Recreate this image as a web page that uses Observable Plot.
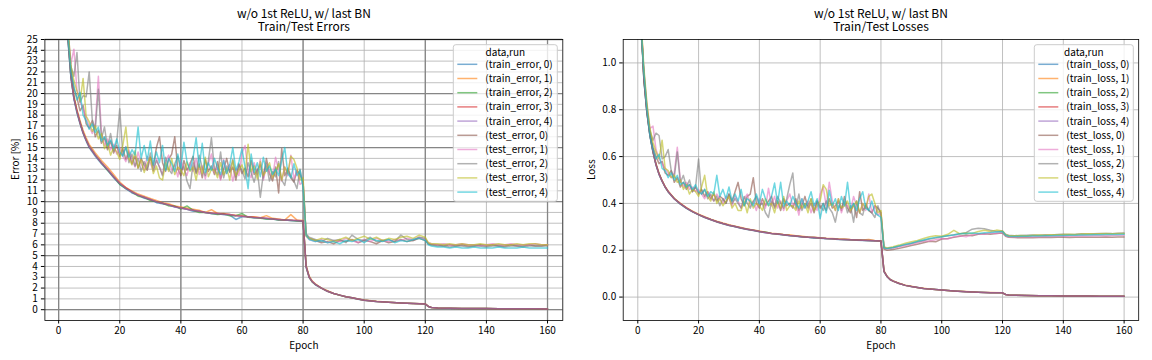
<!DOCTYPE html>
<html>
<head>
<meta charset="utf-8">
<script src="https://cdn.jsdelivr.net/npm/d3@7"></script>
<script src="https://cdn.jsdelivr.net/npm/@observablehq/plot@0.6"></script>
<style>
  html, body { margin: 0; padding: 0; background: #fff; }
  #wrap { position: relative; width: 1152px; height: 360px; overflow: hidden; background: #fff; }
  #wrap > svg, #wrap > figure { position: absolute; top: 0; margin: 0; }
</style>
</head>
<body>
<div id="wrap"></div>
<script>
// ---------------- DATA ----------------
const supTitle = "w/o 1st ReLU, w/ last BN";
const errTitle = "Train/Test Errors";
const lossTitle = "Train/Test Losses";
const xLabel = "Epoch";
const errYLabel = "Error [%]";
const lossYLabel = "Loss";
const legendTitle = "data,run";
const runs = [0, 1, 2, 3, 4];
const errSeriesNames = ["train_error", "test_error"];
const lossSeriesNames = ["train_loss", "test_loss"];
const xTicks = [0, 20, 40, 60, 80, 100, 120, 140, 160];
const xMajorTicks = [0, 40, 80, 120, 160];
const errYTicks = [0,1,2,3,4,5,6,7,8,9,10,11,12,13,14,15,16,17,18,19,20,21,22,23,24,25];
const errYMajorTicks = [0, 5, 10, 15, 20, 25];
const lossYTicks = [0, 0.2, 0.4, 0.6, 0.8, 1.0];

const trainEpochs = [1,2,3,4,5,6,7,8,9,10,12,14,16,18,20,22,24,26,28,30,32,34,36,38,40,42,44,46,48,50,52,54,56,58,60,62,64,66,68,70,72,74,76,78,80,81,82,83,84,86,88,90,92,94,96,98,100,104,108,112,116,120,121,122,124,128,132,136,140,144,148,152,156,160];
const testEpochs = [1,2,3,4,5,6,7,8,9,10,11,12,13,14,15,16,17,18,19,20,21,22,23,24,25,26,27,28,29,30,31,32,33,34,35,36,37,38,39,40,41,42,43,44,45,46,47,48,49,50,51,52,53,54,55,56,57,58,59,60,61,62,63,64,65,66,67,68,69,70,71,72,73,74,75,76,77,78,79,80,81,82,84,86,88,90,92,94,96,98,100,102,104,106,108,110,112,114,116,118,120,121,122,124,126,128,130,132,134,136,138,140,142,144,146,148,150,152,154,156,158,160];

const trainError0 = [41.5,30.8,25.1,21.5,19.5,18.2,17.2,16.3,15.6,15.0, 14.2,13.5,12.9,12.2,11.6,11.2,10.8,10.6,10.3,10.2, 9.9,9.8,9.7,9.5,9.4,9.3,9.1,9.1,9.0,8.9, 8.85,8.8,8.75,8.35,8.6,8.6,8.5,8.5,8.4,8.4, 8.3,8.3,8.25,8.2,8.15, 3.9,3.0,2.6,2.3, 2.0,1.7,1.5,1.35,1.2,1.1,0.97,0.88, 0.75,0.68,0.62,0.57,0.52, 0.3,0.2, 0.16,0.13,0.12,0.1,0.1,0.09,0.08,0.08,0.08,0.07];
const trainError1 = [42.5,31.3,25.6,21.9,19.8,18.5,17.5,16.6,15.9,15.3, 14.5,13.8,13.2,12.5,11.8,11.3,11.0,10.7,10.5,10.3, 10.1,9.9,9.8,9.6,9.5,9.4,9.3,9.2,9.0,9.25, 8.9,8.9,8.8,8.75,8.7,8.6,8.6,8.5,8.7,8.45, 8.4,8.3,8.8,8.3,8.25, 4.1,3.1,2.65,2.4, 2.0,1.75,1.5,1.35,1.2,1.1,0.99,0.9, 0.77,0.69,0.62,0.58,0.54, 0.31,0.2, 0.16,0.13,0.12,0.11,0.1,0.09,0.09,0.08,0.08,0.07];
const trainError2 = [42.0,31.0,25.3,21.6,19.6,18.3,17.3,16.4,15.7,15.1, 14.3,13.6,12.9,12.3,11.6,11.2,10.9,10.5,10.4,10.1, 10.0,9.85,9.6,9.6,9.3,9.6,9.2,9.0,9.0,8.9, 8.8,8.85,8.7,8.7,8.9,8.55,8.5,8.45,8.4,8.4, 8.3,8.3,8.25,8.2,8.2, 4.0,3.0,2.55,2.35, 2.0,1.7,1.5,1.34,1.2,1.1,0.98,0.87, 0.76,0.68,0.63,0.57,0.53, 0.3,0.2, 0.15,0.13,0.12,0.11,0.1,0.09,0.09,0.08,0.07,0.07];
const trainError3 = [42.2,31.1,25.4,21.7,19.6,18.4,17.3,16.4,15.7,15.1, 14.3,13.6,13.0,12.3,11.7,11.3,10.9,10.6,10.4,10.2, 10.0,9.85,9.7,9.55,9.4,9.3,9.2,9.1,9.0,8.95, 8.9,8.85,8.8,8.7,8.65,8.6,8.55,8.5,8.45,8.4, 8.35,8.3,8.3,8.25,8.2, 4.0,3.0,2.6,2.35, 2.0,1.7,1.5,1.35,1.2,1.1,0.98,0.88, 0.76,0.68,0.62,0.57,0.53, 0.3,0.2, 0.16,0.13,0.12,0.11,0.1,0.09,0.09,0.08,0.08,0.07];
const trainError4 = [41.8,30.9,25.2,21.6,19.5,18.3,17.3,16.4,15.7,15.1, 14.3,13.6,13.0,12.3,11.7,11.2,10.9,10.6,10.4,10.2, 10.0,9.85,9.7,9.5,9.4,9.3,9.2,9.1,9.0,8.9, 8.9,8.8,8.8,8.7,8.65,8.6,8.5,8.5,8.45,8.4, 8.35,8.3,8.25,8.25,8.2, 4.0,3.0,2.6,2.35, 2.0,1.7,1.5,1.35,1.2,1.1,0.98,0.88, 0.76,0.68,0.62,0.57,0.53, 0.3,0.2, 0.16,0.13,0.12,0.11,0.1,0.09,0.09,0.08,0.08,0.07];

const testError0 = [40,30,25.6,22.3,20.5,19.6,18.4,18.9,17.2,16.8, 17.5,16.0,16.6,15.4,15.9,14.8,15.6,14.5,15.2,14.2, 14.9,13.9,14.6,13.5,14.2,13.1,14.0,13.4,12.9,14.1, 13.3,15.0,16.0,13.6,12.8,13.9,14.4,16.0,13.0,12.4, 13.8,12.9,13.5,14.2,12.6,13.4,12.2,13.9,12.8,13.3, 12.5,13.7,12.1,13.0,14.0,12.7,13.2,12.0,13.5,12.6, 13.1,12.3,13.8,12.5,12.9,13.4,12.2,14.0,12.6,11.9, 13.2,10.8,14.9,12.4,13.0,12.2,11.8,12.9,12.5,11.8,
  6.9,6.6,6.4,6.2,6.3,6.1,6.4,6.3,6.5,6.2,6.4,6.3,6.1,6.4,6.2,6.3,6.5,6.3,6.4,6.6,6.4,
  6.1,6.0,6.0,5.9,6.0,5.9,6.0,5.9,5.9,6.0,5.9,6.0,5.9,5.9,6.0,5.9,5.9,6.0,5.9,5.9,6.0];
const testError1 = [41,31,26.0,22.8,24.1,20.3,19.2,18.6,17.8,17.0, 16.3,17.2,21.6,16.4,15.2,15.8,14.8,15.3,14.4,15.0, 14.2,13.7,14.8,13.9,13.2,14.6,13.5,12.9,14.2,13.6, 12.8,14.0,13.2,12.5,13.7,14.3,12.9,13.4,12.3,13.8, 13.0,12.4,13.6,12.8,14.0,12.5,13.3,12.1,13.5,14.4, 12.7,13.2,12.0,13.9,12.6,13.4,11.9,13.1,12.4,14.5, 15.2,12.8,12.2,13.6,12.5,13.9,12.0,13.3,12.7,12.2, 14.1,12.9,11.9,13.2,12.4,14.3,12.1,12.9,11.6,11.8,
  6.8,6.5,6.3,6.5,6.2,6.4,6.3,6.6,6.4,6.2,6.5,6.3,6.6,6.4,6.3,6.5,6.4,6.6,6.5,6.7,6.5,
  6.2,6.1,6.0,6.1,6.0,6.0,6.1,6.0,6.0,5.9,6.0,6.1,6.0,6.0,6.1,6.0,6.0,6.0,6.1,6.0,6.0];
const testError2 = [40.5,30.5,25.8,22.5,21.6,23.8,19.2,19.8,19.7,22.0, 17.6,16.7,20.4,15.8,16.9,15.0,16.3,14.7,15.5,18.6, 14.3,15.1,13.6,14.4,13.3,14.0,12.8,13.7,13.1,14.5, 12.9,13.8,13.2,12.4,14.1,13.0,12.6,13.5,14.2,12.8, 13.3,11.9,11.2,13.6,12.7,14.3,13.1,12.4,13.8,15.9, 13.0,12.5,14.6,12.2,13.3,12.8,13.9,12.3,13.4,12.9, 12.1,13.6,12.7,11.8,13.0,10.4,12.6,13.5,11.9,12.8, 12.3,13.7,12.0,11.5,13.1,12.4,11.9,11.2,13.0,11.5,
  7.0,6.7,6.5,6.3,6.6,6.4,6.5,6.2,6.9,6.5,6.4,6.7,6.3,6.4,6.5,6.3,6.9,6.5,6.4,6.7,6.6,
  6.1,6.0,5.9,5.9,5.8,5.9,5.9,5.8,5.9,5.9,5.8,5.9,5.9,5.8,5.9,5.9,5.8,5.9,5.9,5.9,5.9];
const testError3 = [42,31.5,26.3,22.6,21.2,20.2,19.3,21.4,17.9,17.4, 16.5,17.0,15.8,16.3,14.9,15.4,14.3,15.0,14.6,13.9, 15.2,16.9,14.0,13.4,14.7,13.1,13.9,12.7,13.5,14.1, 12.6,13.3,12.2,12.0,13.6,12.8,14.0,12.5,13.2,12.9, 12.4,13.7,12.8,13.2,12.0,13.5,12.6,14.1,12.3,13.0, 12.9,12.2,13.6,12.5,13.1,12.0,13.8,12.4,12.9,13.4, 12.5,15.3,12.8,13.3,12.1,13.7,12.4,12.9,13.6,12.2, 12.8,13.5,12.0,13.2,12.6,14.2,13.9,13.1,12.0,12.2,
  6.8,6.6,6.4,6.6,6.5,6.3,6.5,6.7,6.4,6.6,6.8,6.5,6.7,6.4,6.6,6.5,6.7,6.8,6.6,6.9,6.7,
  6.2,6.1,6.1,6.0,6.1,6.0,6.1,6.0,6.0,6.1,6.0,6.0,6.1,6.0,6.0,6.1,6.0,6.1,6.1,6.0,6.0];
const testError4 = [41,30.8,25.5,22.0,20.6,19.4,20.1,18.0,17.5,16.7, 17.2,16.4,16.9,15.6,16.0,15.2,15.7,14.9,15.8,14.6, 14.2,15.0,14.1,14.8,14.3,16.9,14.0,15.2,13.8,15.6, 13.4,14.6,13.6,15.2,12.9,14.0,13.5,12.8,14.4,13.1, 15.5,13.7,12.9,14.1,15.9,13.2,15.4,12.7,13.6,12.9, 14.0,13.1,12.5,13.8,12.6,13.4,15.0,12.9,13.7,14.9, 13.2,11.2,14.4,12.7,13.6,12.3,14.1,12.8,13.3,12.5, 13.0,12.4,13.8,15.0,12.6,12.2,13.5,12.4,12.9,11.3,
  6.9,6.5,6.3,6.4,6.2,6.3,6.1,6.4,6.3,6.5,6.2,6.6,6.4,6.3,6.5,6.2,6.4,6.3,6.5,6.6,6.4,
  6.0,5.9,5.8,5.8,5.7,5.8,5.7,5.7,5.8,5.7,5.7,5.7,5.8,5.7,5.7,5.7,5.8,5.7,5.7,5.7,5.7];

const trainLoss0 = [1.19,0.925,0.785,0.688,0.618,0.563,0.523,0.494,0.469,0.449, 0.419,0.397,0.379,0.364,0.351,0.340,0.330,0.321,0.313,0.306, 0.300,0.294,0.289,0.284,0.279,0.275,0.271,0.268,0.265,0.262, 0.260,0.257,0.255,0.251,0.251,0.249,0.248,0.246,0.245,0.244, 0.243,0.242,0.241,0.240,0.239, 0.109,0.087,0.075,0.068, 0.058,0.050,0.045,0.041,0.037,0.034,0.032,0.030, 0.026,0.023,0.021,0.019,0.018, 0.011,0.009, 0.008,0.007,0.006,0.006,0.005,0.005,0.005,0.004,0.004,0.004];
const trainLoss1 = [1.22,0.94,0.80,0.696,0.625,0.569,0.528,0.498,0.472,0.452, 0.422,0.400,0.382,0.367,0.354,0.343,0.333,0.324,0.316,0.309, 0.303,0.297,0.291,0.287,0.282,0.277,0.273,0.270,0.267,0.266, 0.262,0.260,0.257,0.255,0.253,0.251,0.250,0.248,0.248,0.246, 0.245,0.244,0.246,0.242,0.241, 0.112,0.089,0.076,0.069, 0.059,0.051,0.046,0.041,0.038,0.035,0.032,0.030, 0.026,0.024,0.021,0.020,0.018, 0.011,0.009, 0.008,0.007,0.006,0.006,0.005,0.005,0.005,0.004,0.004,0.004];
const trainLoss2 = [1.20,0.932,0.790,0.690,0.621,0.566,0.526,0.496,0.470,0.450, 0.421,0.398,0.380,0.365,0.352,0.341,0.331,0.322,0.314,0.307, 0.301,0.295,0.290,0.285,0.280,0.278,0.272,0.269,0.266,0.263, 0.261,0.258,0.256,0.254,0.252,0.250,0.249,0.247,0.246,0.245, 0.244,0.243,0.242,0.241,0.240, 0.110,0.088,0.075,0.068, 0.058,0.050,0.045,0.041,0.037,0.034,0.032,0.030, 0.026,0.023,0.021,0.019,0.018, 0.011,0.009, 0.008,0.007,0.006,0.006,0.005,0.005,0.005,0.004,0.004,0.004];
const trainLoss3 = [1.21,0.935,0.792,0.692,0.622,0.566,0.526,0.496,0.471,0.451, 0.420,0.399,0.381,0.365,0.352,0.341,0.331,0.322,0.314,0.307, 0.301,0.295,0.290,0.285,0.280,0.276,0.272,0.269,0.266,0.263, 0.261,0.258,0.256,0.254,0.252,0.250,0.249,0.247,0.246,0.245, 0.244,0.243,0.242,0.241,0.240, 0.110,0.088,0.075,0.068, 0.058,0.050,0.045,0.041,0.037,0.034,0.032,0.030, 0.026,0.023,0.021,0.019,0.018, 0.011,0.009, 0.008,0.007,0.006,0.006,0.005,0.005,0.005,0.004,0.004,0.004];
const trainLoss4 = [1.20,0.930,0.789,0.690,0.620,0.565,0.525,0.495,0.470,0.450, 0.420,0.398,0.380,0.365,0.352,0.341,0.331,0.322,0.314,0.307, 0.301,0.295,0.290,0.285,0.280,0.276,0.272,0.269,0.266,0.263, 0.261,0.258,0.256,0.254,0.252,0.250,0.249,0.247,0.246,0.245, 0.244,0.243,0.242,0.241,0.240, 0.110,0.088,0.075,0.068, 0.058,0.050,0.045,0.041,0.037,0.034,0.032,0.030, 0.026,0.023,0.021,0.019,0.018, 0.011,0.009, 0.008,0.007,0.006,0.006,0.005,0.005,0.005,0.004,0.004,0.004];

const testLoss0 = [1.15,0.95,0.80,0.70,0.64,0.60,0.57,0.58,0.53,0.52, 0.54,0.49,0.51,0.47,0.49,0.46,0.48,0.45,0.47,0.44, 0.46,0.43,0.45,0.42,0.44,0.41,0.43,0.42,0.40,0.44, 0.41,0.45,0.49,0.42,0.39,0.43,0.44,0.51,0.40,0.38, 0.42,0.39,0.41,0.43,0.38,0.41,0.37,0.42,0.39,0.40, 0.38,0.42,0.37,0.39,0.43,0.38,0.40,0.36,0.41,0.38, 0.40,0.37,0.42,0.38,0.39,0.41,0.37,0.43,0.38,0.36, 0.40,0.34,0.45,0.37,0.39,0.37,0.36,0.39,0.38,0.36,
  0.205,0.200,0.203,0.208,0.214,0.220,0.226,0.232,0.238,0.236,0.248,0.250,0.255,0.260,0.265,0.262,0.268,0.270,0.268,0.272,0.274,
  0.260,0.255,0.254,0.253,0.254,0.253,0.254,0.255,0.254,0.255,0.255,0.254,0.256,0.255,0.256,0.256,0.255,0.257,0.256,0.257,0.257];
const testLoss1 = [1.18,0.97,0.82,0.72,0.73,0.63,0.59,0.57,0.55,0.53, 0.51,0.53,0.64,0.50,0.47,0.49,0.46,0.47,0.45,0.46, 0.44,0.42,0.45,0.43,0.41,0.44,0.42,0.40,0.43,0.42, 0.39,0.43,0.41,0.38,0.42,0.44,0.39,0.41,0.37,0.42, 0.40,0.38,0.465,0.39,0.43,0.38,0.41,0.37,0.41,0.44, 0.39,0.40,0.35,0.42,0.38,0.41,0.36,0.40,0.37,0.44, 0.47,0.39,0.49,0.41,0.37,0.42,0.36,0.40,0.39,0.37, 0.43,0.39,0.36,0.40,0.37,0.44,0.36,0.39,0.35,0.36,
  0.210,0.206,0.210,0.214,0.220,0.226,0.232,0.238,0.240,0.245,0.250,0.248,0.258,0.262,0.258,0.266,0.270,0.268,0.274,0.272,0.276,
  0.262,0.258,0.257,0.258,0.258,0.259,0.258,0.260,0.259,0.260,0.261,0.260,0.261,0.262,0.261,0.262,0.263,0.262,0.263,0.264,0.264];
const testLoss2 = [1.16,0.96,0.81,0.71,0.67,0.70,0.69,0.59,0.60,0.63, 0.54,0.51,0.62,0.49,0.52,0.47,0.50,0.45,0.47,0.59, 0.44,0.46,0.42,0.44,0.41,0.43,0.39,0.42,0.40,0.44, 0.40,0.42,0.40,0.38,0.43,0.40,0.38,0.41,0.43,0.39, 0.40,0.36,0.34,0.41,0.39,0.43,0.40,0.38,0.42,0.48, 0.53,0.38,0.44,0.37,0.40,0.39,0.42,0.37,0.41,0.39, 0.37,0.41,0.38,0.36,0.32,0.39,0.38,0.41,0.36,0.39, 0.32,0.41,0.36,0.35,0.40,0.37,0.36,0.34,0.39,0.35,
  0.212,0.208,0.212,0.218,0.224,0.230,0.236,0.242,0.248,0.252,0.258,0.262,0.266,0.270,0.275,0.290,0.294,0.292,0.285,0.280,0.282,
  0.268,0.264,0.262,0.263,0.264,0.265,0.264,0.266,0.265,0.267,0.268,0.267,0.268,0.270,0.269,0.270,0.271,0.272,0.271,0.273,0.274];
const testLoss3 = [1.20,0.98,0.83,0.72,0.66,0.62,0.59,0.67,0.55,0.54, 0.51,0.52,0.49,0.50,0.46,0.48,0.44,0.46,0.45,0.43, 0.47,0.52,0.43,0.41,0.45,0.40,0.42,0.39,0.41,0.43, 0.38,0.40,0.37,0.37,0.41,0.36,0.42,0.38,0.40,0.39, 0.37,0.42,0.39,0.40,0.36,0.41,0.38,0.43,0.37,0.39, 0.39,0.37,0.41,0.38,0.40,0.36,0.42,0.37,0.39,0.41, 0.48,0.46,0.39,0.40,0.37,0.42,0.38,0.39,0.41,0.37, 0.39,0.41,0.36,0.40,0.38,0.43,0.44,0.40,0.36,0.37,
  0.215,0.210,0.215,0.222,0.230,0.236,0.242,0.250,0.258,0.262,0.260,0.268,0.285,0.270,0.274,0.272,0.280,0.285,0.280,0.286,0.282,
  0.266,0.262,0.262,0.263,0.262,0.264,0.265,0.264,0.266,0.266,0.267,0.268,0.267,0.269,0.270,0.269,0.270,0.271,0.270,0.271,0.272];
const testLoss4 = [1.17,0.96,0.80,0.69,0.63,0.59,0.61,0.55,0.54,0.51, 0.53,0.50,0.52,0.48,0.49,0.47,0.48,0.46,0.48,0.45, 0.44,0.46,0.43,0.45,0.44,0.52,0.43,0.46,0.42,0.47, 0.41,0.44,0.41,0.46,0.39,0.42,0.41,0.39,0.44,0.40, 0.46,0.42,0.39,0.43,0.487,0.40,0.49,0.39,0.41,0.39, 0.43,0.40,0.38,0.42,0.38,0.41,0.45,0.39,0.42,0.335, 0.40,0.36,0.456,0.39,0.42,0.37,0.43,0.39,0.49,0.38, 0.40,0.37,0.42,0.45,0.38,0.37,0.41,0.36,0.35,0.34,
  0.210,0.207,0.212,0.218,0.225,0.230,0.238,0.244,0.250,0.255,0.258,0.262,0.265,0.270,0.272,0.274,0.272,0.275,0.276,0.278,0.280,
  0.264,0.260,0.259,0.260,0.260,0.261,0.261,0.262,0.262,0.263,0.263,0.264,0.264,0.265,0.265,0.266,0.266,0.267,0.267,0.267,0.268];

const trainErrors = [trainError0, trainError1, trainError2, trainError3, trainError4];
const testErrors = [testError0, testError1, testError2, testError3, testError4];
const trainLosses = [trainLoss0, trainLoss1, trainLoss2, trainLoss3, trainLoss4];
const testLosses = [testLoss0, testLoss1, testLoss2, testLoss3, testLoss4];

// matplotlib tab10
const tab10 = ["#1f77b4","#ff7f0e","#2ca02c","#d62728","#9467bd","#8c564b","#e377c2","#7f7f7f","#bcbd22","#17becf"];

// ---------------- BUILD ----------------
const problems = [];
function check(name, arr, epochs) { if (arr.length !== epochs.length) problems.push(name + ": " + arr.length + " vs " + epochs.length); }
trainErrors.forEach((a, i) => check("trainError" + i, a, trainEpochs));
trainLosses.forEach((a, i) => check("trainLoss" + i, a, trainEpochs));
testErrors.forEach((a, i) => check("testError" + i, a, testEpochs));
testLosses.forEach((a, i) => check("testLoss" + i, a, testEpochs));
if (problems.length) throw new Error("Length mismatch: " + problems.join("; "));

function buildRows(names, trainSets, testSets) {
  const rows = [];
  const keys = [];
  [[names[0], trainSets, trainEpochs], [names[1], testSets, testEpochs]].forEach(([name, sets, epochs]) => {
    runs.forEach(r => {
      const key = `(${name}, ${r})`;
      keys.push(key);
      sets[r].forEach((v, i) => rows.push({key, epoch: epochs[i], value: v}));
    });
  });
  return {rows, keys};
}

const FONT = '"Noto Sans CJK JP", "Noto Sans", sans-serif';
const err = buildRows(errSeriesNames, trainErrors, testErrors);
const loss = buildRows(lossSeriesNames, trainLosses, testLosses);

function makeChart(cfg) {
  const marks = [
    Plot.gridX(xTicks, {stroke: "#b0b0b0", strokeOpacity: 1, strokeWidth: 0.8}),
    Plot.gridY(cfg.yTicks, {stroke: "#b0b0b0", strokeOpacity: 1, strokeWidth: 0.8})
  ];
  if (cfg.major) {
    marks.push(Plot.gridX(xMajorTicks, {stroke: "#868686", strokeOpacity: 1, strokeWidth: 1.3}));
    marks.push(Plot.gridY(errYMajorTicks, {stroke: "#868686", strokeOpacity: 1, strokeWidth: 1.3}));
  }
  marks.push(
    Plot.line(cfg.rows, {x: "epoch", y: "value", z: "key", stroke: "key", strokeWidth: 1.5, strokeOpacity: 0.62, clip: true}),
    Plot.frame({stroke: "#000", strokeWidth: 0.8}),
    Plot.axisX(xTicks, {tickSize: 3.5, tickPadding: 3, label: null, tickFormat: d => String(d)}),
    Plot.axisY(cfg.yTicks, {tickSize: 3.5, tickPadding: 3.5, label: null, tickFormat: cfg.yFormat}),
    Plot.text([supTitle], {text: d => d, frameAnchor: "top", lineAnchor: "middle", dy: -25.3, fontSize: 12}),
    Plot.text([cfg.title], {text: d => d, frameAnchor: "top", lineAnchor: "middle", dy: -12.5, fontSize: 12}),
    Plot.text([xLabel], {text: d => d, frameAnchor: "bottom", lineAnchor: "middle", dy: 25}),
    Plot.text([cfg.ylabel], {text: d => d, frameAnchor: "left", lineAnchor: "middle", dx: cfg.ylabelDx, rotate: -90})
  );
  return Plot.plot({
    width: 576, height: 360,
    marginLeft: cfg.marginLeft, marginRight: cfg.marginRight, marginTop: 39, marginBottom: 40,
    x: {domain: cfg.xDomain},
    y: {domain: cfg.yDomain},
    color: {domain: cfg.keys, range: tab10},
    style: {fontFamily: FONT, fontSize: "10px", color: "#000", background: "transparent", overflow: "visible"},
    marks
  });
}

const wrap = document.getElementById("wrap");
const left = makeChart({rows: err.rows, keys: err.keys, yTicks: errYTicks, yFormat: d => String(d), yDomain: [-1, 25], xDomain: [-4.5, 165],
  marginLeft: 44.4, marginRight: 13.7, major: true, title: errTitle, ylabel: errYLabel, ylabelDx: -29.6});
const right = makeChart({rows: loss.rows, keys: loss.keys, yTicks: lossYTicks, yFormat: d3.format(".1f"), yDomain: [-0.1, 1.1], xDomain: [-4.8, 164.8],
  marginLeft: 46.7, marginRight: 13.8, major: false, title: lossTitle, ylabel: lossYLabel, ylabelDx: -31.7});
left.style.left = "0px";
right.style.left = "576px";
wrap.appendChild(left);
wrap.appendChild(right);

// Legends (overlay SVG)
const ov = d3.select(wrap).append("svg")
  .attr("width", 1152).attr("height", 360)
  .style("position", "absolute").style("left", "0px").style("top", "0px")
  .style("font-family", FONT).style("font-size", "10px");

function drawLegend(keys, x0, x1) {
  const g = ov.append("g");
  g.append("rect").attr("x", x0).attr("y", 44.7).attr("width", x1 - x0).attr("height", 156.6)
    .attr("rx", 2.5).attr("fill", "#fff").attr("fill-opacity", 0.8).attr("stroke", "#cccccc").attr("stroke-width", 1);
  g.append("text").attr("x", (x0 + x1) / 2).attr("y", 52.3).attr("dy", "0.35em")
    .attr("text-anchor", "middle").attr("fill", "#000").text(legendTitle);
  keys.forEach((k, i) => {
    const y = 64.3 + 14.2 * i;
    g.append("line").attr("x1", x0 + 4).attr("x2", x0 + 24).attr("y1", y).attr("y2", y)
      .attr("stroke", tab10[i]).attr("stroke-width", 1.5).attr("stroke-opacity", 0.6);
    g.append("text").attr("x", x0 + 32).attr("y", y).attr("dy", "0.35em").attr("fill", "#000").text(k);
  });
}
drawLegend(err.keys, 453.3, 557.3);
drawLegend(loss.keys, 1034.3, 1133.3);
</script>
</body>
</html>
